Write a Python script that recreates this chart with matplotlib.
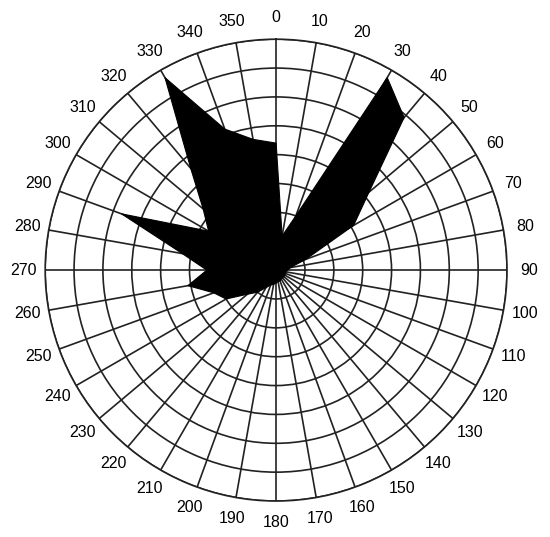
import numpy as np
import matplotlib
matplotlib.use("Agg")
import matplotlib.pyplot as plt

plt.rcParams['font.family'] = ['Liberation Sans', 'DejaVu Sans']

# direction (deg, clockwise from north) and radius
angles = np.arange(0, 360, 10)
radius = [4.4, 1.2, 2.0, 7.7, 6.9, 4.2, 3.1, 1.1, 0.5, 0.4,
          0.35, 0.35, 0.35, 0.35, 0.35, 0.35, 0.4, 0.4, 0.45, 0.5,
          0.55, 0.7, 1.0, 1.3, 2.0, 2.3, 3.1, 2.4, 3.3, 5.7,
          2.7, 3.3, 4.6, 7.7, 5.2, 4.6]
ring_values = np.arange(1, 9)
tick_labels = [str(a) for a in angles]

fig = plt.figure(figsize=(5.5, 5.37), dpi=100)
ax = fig.add_axes([0.082, 0.067, 0.84, 0.86], projection='polar')
ax.set_theta_zero_location('N')
ax.set_theta_direction(-1)
ax.set_axisbelow(True)

th = np.deg2rad(np.append(angles, angles[0]))
r = np.append(radius, radius[0])
ax.fill(th, r, color='black', lw=0.8, ec='black', zorder=3)

ax.set_ylim(0, 8)
ax.set_yticks(ring_values)
ax.set_yticklabels([])
ax.set_xticks(np.deg2rad(angles))
ax.set_xticklabels([])
ax.grid(True, color='#222222', lw=1.2, ls='-')
ax.spines['polar'].set_color('#222222')
ax.spines['polar'].set_linewidth(1.2)

for a, lab in zip(angles, tick_labels):
    ax.text(np.deg2rad(a), 8.75, lab, ha='center', va='center',
            fontsize=11.5, clip_on=False)

fig.savefig('out.png', dpi=100)
